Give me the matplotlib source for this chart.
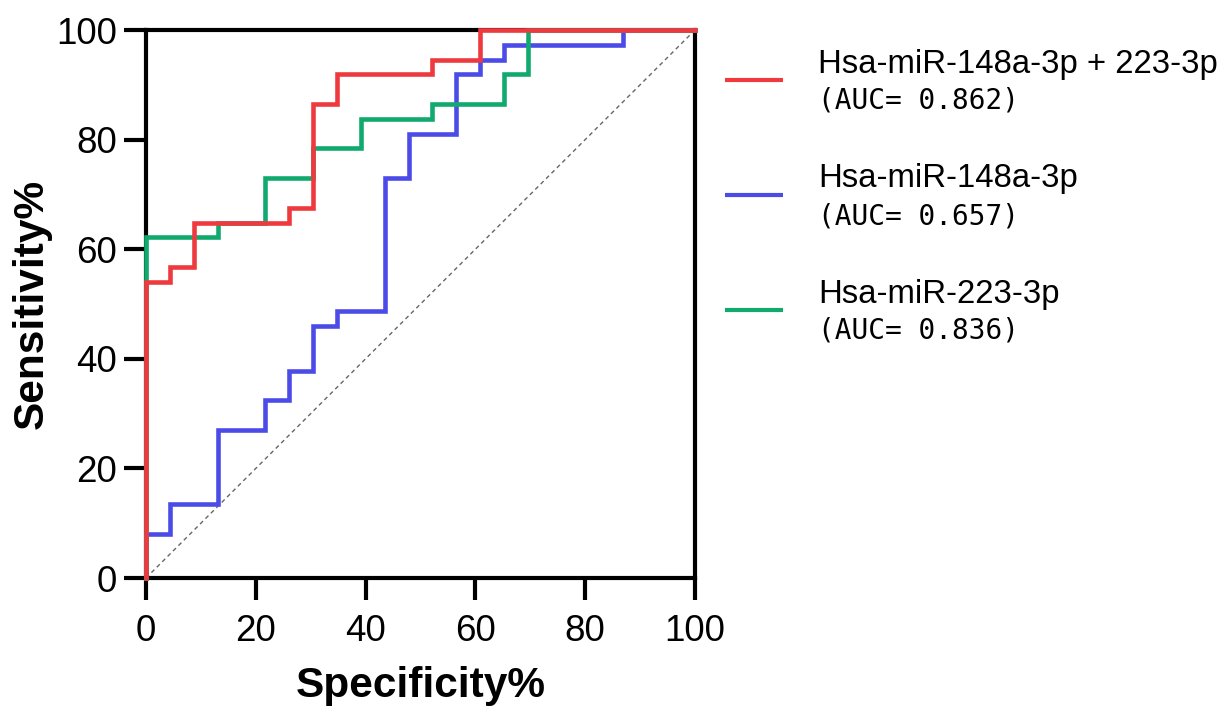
import matplotlib
matplotlib.use("Agg")
import matplotlib.pyplot as plt
from matplotlib.lines import Line2D

# ---- data (ROC curves, specificity % vs sensitivity %) ----
combo_spec = [0, 4.35, 8.70, 26.09, 30.43, 34.78, 52.17, 60.87, 100]
combo_sens = [0, 54.05, 56.76, 64.86, 67.57, 86.49, 91.89, 94.59, 100]

mir148_spec = [0, 4.35, 13.04, 21.74, 26.09, 30.43, 34.78, 43.48, 47.83, 56.52, 60.87, 65.22, 86.96, 100]
mir148_sens = [0, 8.11, 13.51, 27.03, 32.43, 37.84, 45.95, 48.65, 72.97, 81.08, 91.89, 94.59, 97.30, 100]

mir223_spec = [0, 13.04, 21.74, 30.43, 39.13, 52.17, 65.22, 69.57, 100]
mir223_sens = [0, 62.16, 64.86, 72.97, 78.38, 83.78, 86.49, 91.89, 100]

series_names = ["Hsa-miR-148a-3p + 223-3p", "Hsa-miR-148a-3p", "Hsa-miR-223-3p"]
auc_labels = ["(AUC= 0.862)", "(AUC= 0.657)", "(AUC= 0.836)"]
ticks = [0, 20, 40, 60, 80, 100]

RED = "#EE3A3E"
BLUE = "#4B4BE8"
GREEN = "#10AA6E"
colors = [RED, BLUE, GREEN]

W, H = 1232, 708
fig = plt.figure(figsize=(W / 100, H / 100), dpi=100)
plt.rcParams['font.family'] = ['Liberation Sans', 'DejaVu Sans']

x0, x1, y0, y1 = 146, 695, 30, 578
ax = fig.add_axes([x0 / W, 1 - y1 / H, (x1 - x0) / W, (y1 - y0) / H])

ax.plot([0, 100], [0, 100], color="#666666", lw=1.0, ls=(0, (3, 2.5)), zorder=2)
lw = 3.3
ax.plot(mir148_spec, mir148_sens, drawstyle="steps-pre", color=BLUE, lw=lw,
        zorder=3, clip_on=False, solid_joinstyle="miter")
ax.plot(mir223_spec, mir223_sens, drawstyle="steps-pre", color=GREEN, lw=lw,
        zorder=4, clip_on=False, solid_joinstyle="miter")
ax.plot(combo_spec, combo_sens, drawstyle="steps-pre", color=RED, lw=lw,
        zorder=5, clip_on=False, solid_joinstyle="miter")

ax.set_xlim(0, 100)
ax.set_ylim(0, 100)
ax.set_xticks(ticks)
ax.set_yticks(ticks)
for s in ax.spines.values():
    s.set_linewidth(3.0)
    s.set_color("black")
ax.tick_params(axis="both", direction="out", length=16, width=3.0,
               labelsize=26.5, color="black")
ax.tick_params(axis="x", pad=10)
ax.tick_params(axis="y", pad=5)

ax.set_xlabel("Specificity%", fontsize=30.5, fontweight="bold")
ax.set_ylabel("Sensitivity%", fontsize=30.5, fontweight="bold")
ax.xaxis.label.set_va("center")
ax.yaxis.label.set_va("center")
ax.xaxis.set_label_coords(0.5, (y1 - 686) / (y1 - y0))
ax.yaxis.set_label_coords((32 - x0) / (x1 - x0), 0.5)

# ---- legend (manual) ----
line_y = [80, 195, 310]
for i in range(3):
    ly = line_y[i]
    fig.add_artist(Line2D([725 / W, 783 / W], [1 - ly / H, 1 - ly / H],
                          color=colors[i], lw=3.0, solid_capstyle="butt"))
    fig.text(818 / W, 1 - (ly - 16) / H, series_names[i], fontsize=23.7,
             ha="left", va="center")
    fig.text(818 / W, 1 - (ly + 21) / H, auc_labels[i], fontsize=20,
             ha="left", va="center", family=["DejaVu Sans Mono"])

fig.savefig("out.png", dpi=100)
